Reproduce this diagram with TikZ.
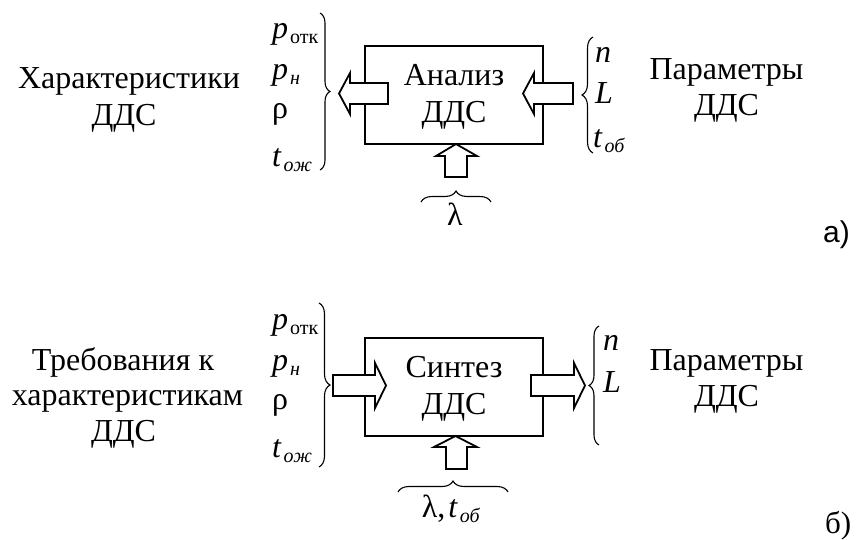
\documentclass[tikz,border=0pt]{standalone}
\usepackage{fontspec}
\setmainfont{Liberation Serif}
\newfontfamily\sansf{Liberation Sans}
\usetikzlibrary{decorations.pathreplacing}
\newcommand\sbx[1]{\hspace{2pt}\raisebox{-5pt}{\fontsize{20}{20}\selectfont #1}}
\begin{document}
\begin{tikzpicture}[x=1pt,y=-1pt,
  box/.style={draw, line width=2pt, minimum width=178pt, minimum height=98pt, inner sep=0pt},
  barrow/.style={draw, line width=1.8pt, fill=white, line join=miter},
  brc/.style={decorate, decoration={brace, amplitude=#1}, line width=1.1pt},
  brc/.default=10pt,
  txt/.style={anchor=base, inner sep=0pt, font=\fontsize{32}{36}\selectfont},
  lab/.style={anchor=base west, inner sep=0pt, font=\fontsize{32}{36}\selectfont}]
\useasboundingbox (0,0) rectangle (856,539);

% ---------- a) ----------
\node[box] (boxA) at (454,95) {};
\node[txt] (tA1) at (454,85) {Анализ};
\node[txt] (tA2) at (454,122) {ДДС};

\draw[barrow] (388,83) -- (350,83) -- (350,73) -- (339,93.5) -- (350,114) -- (350,104) -- (388,104) -- cycle;
\draw[barrow] (573,83) -- (534,83) -- (534,73) -- (523,93.5) -- (534,114) -- (534,104) -- (573,104) -- cycle;
\draw[barrow] (445,177) -- (445,156) -- (436,156) -- (456,144) -- (477,156) -- (467,156) -- (467,177) -- cycle;

\draw[brc=10pt] (320,13) -- (320,170);
\draw[brc=11pt] (593,153) -- (593,37);
\draw[brc=11pt] (421,202) -- (491,202);

\node[lab] (pA1) at (272,38) {\textit{p}\sbx{отк}};
\node[lab] (pA2) at (272,79) {\textit{p}\sbx{\textit{н}}};
\node[lab] (pA3) at (272,118) {ρ};
\node[lab] (pA4) at (272,166) {\textit{t}\sbx{\textit{ож}}};

\node[lab] (nA) at (595,62) {\textit{n}};
\node[lab] (LA) at (595,103) {\textit{L}};
\node[lab] (tobA) at (593,147) {\textit{t}\sbx{\textit{об}}};

\node[txt] (lamA) at (455,225) {λ};

\node[txt] (lA1) at (129,88) {Характеристики};
\node[txt] (lA2) at (124,125) {ДДС};
\node[txt] (rA1) at (726.5,79) {Параметры};
\node[txt] (rA2) at (726.5,115) {ДДС};

\node[anchor=base west, inner sep=0pt, font=\sansf\fontsize{30}{34}\selectfont] (capA) at (823,242) {а)};

% ---------- б) ----------
\node[box] (boxB) at (454,386.5) {};
\node[txt] (tB1) at (454,377) {Синтез};
\node[txt] (tB2) at (454,414) {ДДС};

\draw[barrow] (333,375) -- (375,375) -- (375,363) -- (386,385.5) -- (375,408) -- (375,396) -- (333,396) -- cycle;
\draw[barrow] (531,375) -- (574,375) -- (574,363) -- (585,385.5) -- (574,408) -- (574,396) -- (531,396) -- cycle;
\draw[barrow] (446,469) -- (446,447) -- (434,447) -- (455.5,436) -- (477,447) -- (467,447) -- (467,469) -- cycle;

\draw[brc=11pt] (319,303) -- (319,467);
\draw[brc=10pt] (599,445) -- (599,326);
\draw[brc=11pt] (398,492) -- (508,492);

\node[lab] (pB1) at (272,329) {\textit{p}\sbx{отк}};
\node[lab] (pB2) at (272,370) {\textit{p}\sbx{\textit{н}}};
\node[lab] (pB3) at (272,409) {ρ};
\node[lab] (pB4) at (272,457) {\textit{t}\sbx{\textit{ож}}};

\node[lab] (nB) at (603,350) {\textit{n}};
\node[lab] (LB) at (603,392) {\textit{L}};

\node[txt] (lamB) at (451,517) {λ,\hspace{3pt}\textit{t}\sbx{\textit{об}}};

\node[txt] (lB1) at (123,370) {Требования к};
\node[txt] (lB2) at (127.5,405) {характеристикам};
\node[txt] (lB3) at (123.5,441) {ДДС};
\node[txt] (rB1) at (726.5,370) {Параметры};
\node[txt] (rB2) at (726.5,406) {ДДС};

\node[anchor=base west, inner sep=0pt, font=\fontsize{31}{34}\selectfont] (capB) at (825,533) {б)};
\end{tikzpicture}
\end{document}
